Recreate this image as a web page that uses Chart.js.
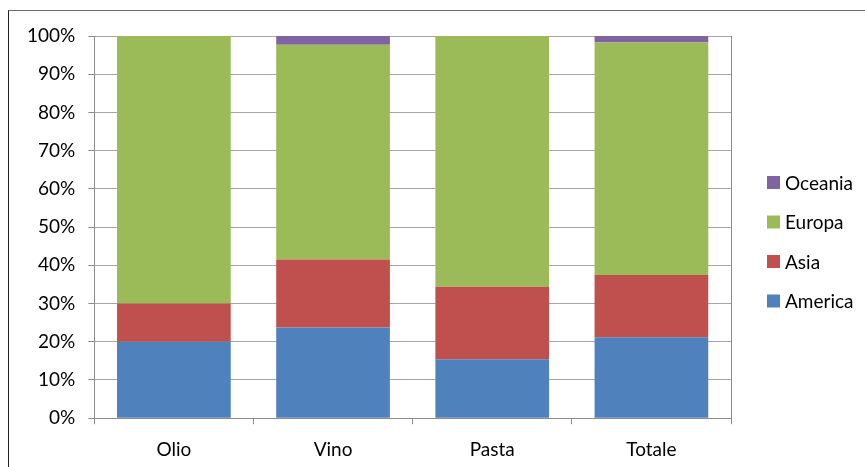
<!DOCTYPE html>
<html>
<head>
<meta charset="utf-8">
<script src="https://cdn.jsdelivr.net/npm/chart.js@4"></script>
<style>
  html, body { margin: 0; padding: 0; background: #fff; overflow: hidden; }
  #frame { position: absolute; left: 8px; top: 10px; width: 900px; height: 500px;
           border-top: 1px solid #6e6e6e; border-left: 1px solid #222; }
  #wrap { position: absolute; left: 0; top: 0; width: 865px; height: 476px; }
</style>
</head>
<body>
<div id="frame"></div>
<div id="wrap"><canvas id="shareChart"></canvas></div>
<script>
const categories = ['Olio', 'Vino', 'Pasta', 'Totale'];
const america = [20, 23.7, 15.4, 21.2];
const asia = [10, 17.8, 19.0, 16.3];
const europa = [70, 56.2, 65.6, 60.8];
const oceania = [0, 2.3, 0, 1.7];
const yTicks = [0, 10, 20, 30, 40, 50, 60, 70, 80, 90, 100];

const FONT = { family: 'Lato', size: 19 };

// legend on the right, drawn in reverse order like the original
const sideLegend = {
    id: 'sideLegend',
    afterDraw(chart) {
        const { ctx, chartArea } = chart;
        const sets = chart.data.datasets.slice().reverse();
        const x = chartArea.right + 36;
        let y = chartArea.top + 146.5;
        ctx.save();
        ctx.font = FONT.size + 'px ' + FONT.family;
        ctx.textBaseline = 'middle';
        ctx.textAlign = 'left';
        sets.forEach(ds => {
            ctx.fillStyle = ds.backgroundColor;
            ctx.fillRect(x, y - 6.5, 13, 13);
            ctx.fillStyle = '#000';
            ctx.fillText(ds.label, x + 18, y + 1);
            y += 39.5;
        });
        ctx.restore();
    }
};

// right edge of the plot area
const plotEdge = {
    id: 'plotEdge',
    afterDatasetsDraw(chart) {
        const { ctx, chartArea } = chart;
        ctx.save();
        ctx.strokeStyle = '#8c8c8c';
        ctx.lineWidth = 1;
        ctx.beginPath();
        ctx.moveTo(Math.round(chartArea.right) + 0.5, chartArea.top);
        ctx.lineTo(Math.round(chartArea.right) + 0.5, chartArea.bottom);
        ctx.stroke();
        ctx.restore();
    }
};

const ctx = document.getElementById('shareChart');

new Chart(ctx, {
    type: 'bar',
    data: {
        labels: categories,
        datasets: [
            { label: 'America', data: america, backgroundColor: '#4F81BD' },
            { label: 'Asia', data: asia, backgroundColor: '#C0504D' },
            { label: 'Europa', data: europa, backgroundColor: '#9BBB59' },
            { label: 'Oceania', data: oceania, backgroundColor: '#8064A2' }
        ]
    },
    options: {
        responsive: true,
        maintainAspectRatio: false,
        animation: false,
        datasets: {
            bar: {
                categoryPercentage: 1,
                barPercentage: 1 / 1.4,
                borderWidth: 0
            }
        },
        layout: {
            padding: { left: 14, right: 134, top: 36, bottom: 1 }
        },
        scales: {
            x: {
                stacked: true,
                grid: {
                    offset: true,
                    drawOnChartArea: false,
                    tickLength: 6,
                    color: '#8c8c8c'
                },
                border: { color: '#8c8c8c' },
                ticks: { color: '#000', font: FONT, padding: 14 }
            },
            y: {
                stacked: true,
                min: 0,
                max: 100,
                afterBuildTicks: axis => {
                    axis.ticks = yTicks.map(v => ({ value: v }));
                },
                grid: {
                    color: '#a6a6a6',
                    tickLength: 6,
                    tickColor: '#8c8c8c'
                },
                border: { color: '#8c8c8c' },
                ticks: {
                    color: '#000',
                    font: FONT,
                    padding: 13,
                    callback: v => v + '%'
                }
            }
        },
        plugins: {
            legend: { display: false },
            tooltip: { enabled: false }
        }
    },
    plugins: [sideLegend, plotEdge]
});
</script>
</body>
</html>
